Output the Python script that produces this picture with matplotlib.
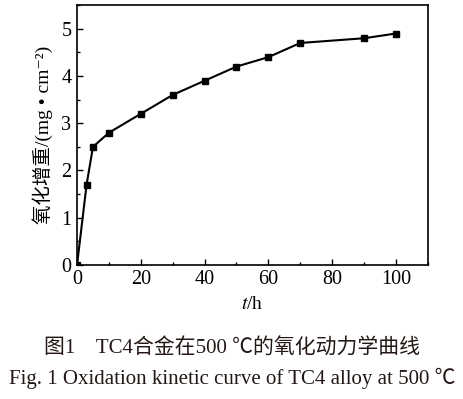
import matplotlib
matplotlib.use('Agg')
import matplotlib.pyplot as plt
from matplotlib.ticker import MultipleLocator

plt.rcParams['font.family'] = ['Liberation Serif', 'Noto Sans CJK SC', 'DejaVu Sans']
plt.rcParams['mathtext.fontset'] = 'stix'

# Oxidation mass gain of TC4 at 500 C
hours = [0, 3, 5, 10, 20, 30, 40, 50, 60, 70, 90, 100]
mass_gain = [0, 1.7, 2.5, 2.8, 3.2, 3.6, 3.9, 4.2, 4.4, 4.7, 4.8, 4.9]

fig = plt.figure(figsize=(4.64, 3.99), dpi=100)
ax = fig.add_axes([0.166, 0.336, 0.756, 0.651])

ax.plot(hours, mass_gain, color='black', lw=1.5, marker='s', ms=5)

ax.set_xlim(0, 110)
ax.set_ylim(0, 5.5)
ax.xaxis.set_major_locator(MultipleLocator(20))
ax.xaxis.set_minor_locator(MultipleLocator(10))
ax.yaxis.set_major_locator(MultipleLocator(1))
ax.yaxis.set_minor_locator(MultipleLocator(0.5))
ax.tick_params(which='both', direction='in', labelsize=14.5, width=1)
ax.tick_params(which='major', length=4, pad=4)
ax.tick_params(which='minor', length=2.5)
for s in ax.spines.values():
    s.set_linewidth(1.2)

ax.set_xlabel('$t$/h', fontsize=14, labelpad=5)
ax.set_ylabel('氧化增重/(mg • cm⁻²)', fontsize=14, labelpad=6)

fig.text(0.5, 0.126, '图1    TC4合金在500 ℃的氧化动力学曲线', ha='center', va='center',
         fontsize=15, color='#231815')
fig.text(0.5, 0.052, 'Fig. 1 Oxidation kinetic curve of TC4 alloy at 500 ℃', ha='center',
         va='center', fontsize=15, color='#231815')

fig.savefig('out.png', dpi=100)
